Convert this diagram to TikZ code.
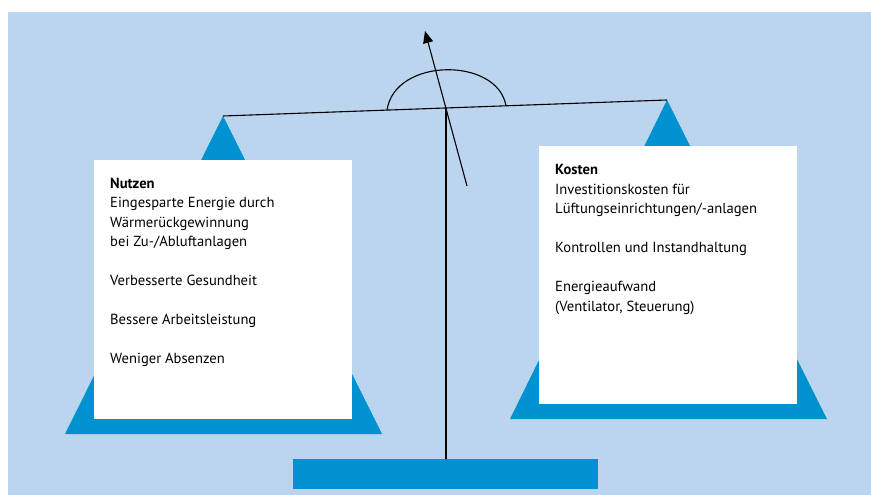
\documentclass[tikz,border=0pt]{standalone}
\usepackage{fontspec}
\setmainfont{PT Sans}
\usetikzlibrary{arrows.meta}
\definecolor{bgblue}{HTML}{BBD5EF}
\definecolor{panblue}{HTML}{0092D0}
\tikzset{
  pan/.style={fill=panblue,draw=none},
  card/.style={fill=white,draw=none},
  rod/.style={draw=black,line width=1.1pt},
  txt/.style={anchor=north west,align=left,inner sep=0pt,font=\fontsize{14.6}{19.5}\selectfont}
}
\begin{document}
\begin{tikzpicture}[x=1pt,y=-1pt]
\useasboundingbox (0,0) rectangle (871,495);
\fill[bgblue] (8,12) rectangle (871,495);
% pans
\fill[pan] (223,116) -- (65,434) -- (382,434) -- cycle;
\fill[pan] (667,100) -- (510,419) -- (827,419) -- cycle;
\fill[card] (94,160) rectangle (352,419);
\fill[card] (539,146) rectangle (797,404);
% base
\fill[pan] (293,459) rectangle (598,489);
% beam and stand
\coordinate (L) at (223,116);
\coordinate (R) at (667,100);
\coordinate (P) at (446,108);
\coordinate (S) at (446,459);
\coordinate (T) at (425,31);
\coordinate (B) at (467,186);
\draw[rod] (L) -- (R);
\draw[rod] (P) -- (S);
\draw[rod] (387,110) .. controls (395,57) and (498,57) .. (506,106);
\draw[rod,-{Triangle[length=12pt,width=10pt]}] (B) -- (T);
% texts
\node[txt] (nutzen) at (110,178) {\textbf{Nutzen}\\
Eingesparte Energie durch\\
Wärmerückgewinnung\\
bei Zu-/Abluftanlagen\\[19.5pt]
Verbesserte Gesundheit\\[19.5pt]
Bessere Arbeitsleistung\\[19.5pt]
Weniger Absenzen};
\node[txt] (kosten) at (555,164.5) {\textbf{Kosten}\\
Investitionskosten für\\
Lüftungseinrichtungen/-anlagen\\[19.5pt]
Kontrollen und Instandhaltung\\[19.5pt]
Energieaufwand\\
(Ventilator, Steuerung)};
\end{tikzpicture}
\end{document}
